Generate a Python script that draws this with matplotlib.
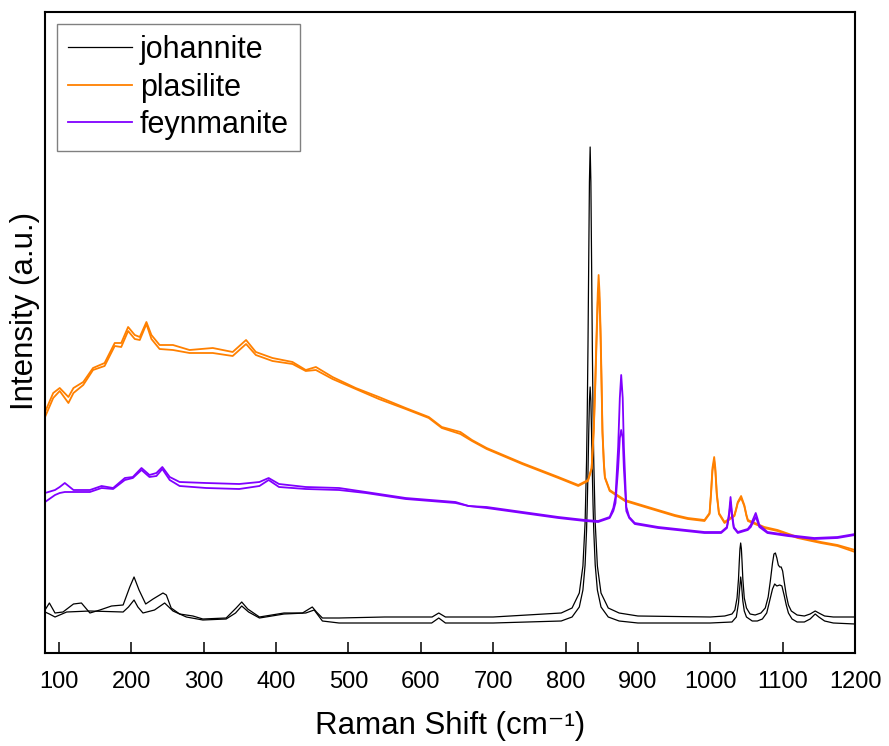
import matplotlib
matplotlib.use("Agg")
import matplotlib.pyplot as plt

# johannite, two spectra (wavenumber in cm-1, intensity in a.u.)
joh_x_a = [80.7, 86.7, 94.5, 105.5, 120, 131, 142.7, 156.5, 172.6, 188.6,
           197.8, 203.7, 210.6, 219.8, 230, 243.7, 248.3, 255, 266.7, 285,
           298.8, 331, 344.8, 352.5, 360.8, 377, 411, 436.5, 450, 455.8,
           464, 487, 550, 615.6, 624.8, 634, 700, 794, 809, 819,
           824, 827, 829, 830, 831, 832, 833, 834, 835, 836,
           837, 838, 839, 841, 844, 849, 859, 874, 900, 1000,
           1020, 1030, 1034, 1037, 1039, 1040, 1041, 1042, 1043, 1044,
           1045, 1047, 1050, 1055, 1062, 1070, 1076, 1080, 1083, 1086,
           1088, 1090, 1092, 1094, 1096, 1098, 1100, 1102, 1105, 1108,
           1112, 1120, 1130, 1138, 1145, 1150, 1158, 1170, 1200]
joh_y_a = [43, 50, 40, 41, 49, 50, 40, 43, 47, 48,
           66, 76, 63, 49, 54, 60, 58, 45, 39, 37,
           34, 35, 45, 51, 44, 36, 40, 40, 46, 41,
           35, 35, 36, 36, 40, 36, 36, 40, 45, 60,
           87, 130, 191, 240, 307, 390, 471, 506, 471, 390,
           307, 240, 191, 130, 87, 60, 45, 40, 37, 36,
           37, 39, 43, 55, 74, 90, 104, 110, 104, 90,
           74, 55, 45, 39, 38, 40, 45, 56, 72, 90,
           99, 100, 95, 88, 86, 86, 82, 72, 58, 48,
           42, 38, 37, 39, 42, 40, 37, 36, 36]

joh_x_b = [80.7, 86.7, 94.5, 110.6, 142.7, 188.6, 196, 203.7, 209, 216,
           232, 246, 257.5, 276, 298.8, 331, 344, 352.5, 362, 377,
           411, 441, 452.6, 464, 487, 615, 624.8, 634, 700, 794,
           809, 819, 824, 827, 829, 830, 831, 832, 833, 834,
           835, 836, 837, 838, 839, 841, 844, 849, 859, 874,
           900, 1000, 1030, 1036, 1039, 1041, 1042, 1043, 1045, 1047,
           1050, 1058, 1065, 1072, 1078, 1082, 1086, 1089, 1092, 1096,
           1099, 1102, 1105, 1108, 1113, 1120, 1130, 1138, 1145, 1150,
           1158, 1170, 1200]
joh_y_b = [41, 39, 36, 41, 42, 41, 46, 53, 46, 40,
           43, 50, 42, 36, 33, 34, 40, 47, 41, 35,
           39, 40, 43, 32, 30, 30, 35, 30, 30, 32,
           36, 46, 63, 88, 122, 148, 181, 219, 252, 266,
           252, 219, 181, 148, 122, 88, 63, 46, 36, 32,
           30, 30, 31, 36, 50, 68, 76, 70, 52, 42,
           36, 32, 32, 34, 40, 52, 64, 69, 67, 68,
           67, 58, 48, 40, 34, 31, 31, 34, 39, 36,
           32, 30, 29]

# plasilite, two spectra on a shared wavenumber grid
plas_x = [80.7, 92, 101, 113, 120, 133.5, 147, 163, 177, 186,
          195.5, 204.7, 211.6, 220.8, 227.7, 239, 257.5, 280.4, 312.5, 340,
          358.5, 372, 395, 422.7, 441, 455, 478, 510, 542, 579,
          611, 629, 654.7, 670.7, 691, 740, 790, 817.6, 831, 836,
          839, 841, 843, 844.5, 845.7, 847, 848.4, 850, 851, 853,
          854.4, 861, 882, 914, 951, 969, 992, 999, 1001, 1003,
          1005.4, 1007, 1009, 1012, 1019.7, 1033.4, 1036, 1038, 1042.6, 1047,
          1050, 1052, 1074.7, 1093, 1120.7, 1152.8, 1175.8, 1200]
plas_y_a = [241, 260, 265, 256, 265, 271, 285, 290, 310, 310,
            326, 318, 316, 331, 318, 308, 308, 303, 305, 301,
            313, 301, 295, 291, 283, 286, 276, 265, 256, 245,
            236, 226, 221, 213, 205, 190, 176, 168, 173, 185,
            225, 270, 323, 360, 378, 360, 323, 265, 223, 190,
            176, 163, 153, 146, 138, 135, 133, 140, 160, 185,
            196, 185, 160, 140, 131, 138, 145, 151, 157, 148,
            138, 133, 126, 123, 116, 111, 108, 103]
plas_y_b = [236, 255, 262, 250, 260, 268, 283, 287, 307, 306,
            322, 314, 313, 329, 314, 304, 303, 300, 300, 297,
            309, 298, 292, 289, 282, 283, 274, 264, 254, 244,
            235, 225, 219, 212, 204, 189, 175, 167, 172, 184,
            222, 265, 315, 350, 365, 350, 315, 258, 220, 188,
            175, 162, 152, 145, 137, 134, 132, 139, 158, 182,
            192, 182, 158, 139, 130, 137, 144, 150, 155, 147,
            137, 132, 125, 122, 115, 110, 107, 101]

# feynmanite, two spectra on a shared wavenumber grid
feyn_x = [80.7, 94.5, 101, 108, 120, 142.7, 158.8, 174.8, 191, 202,
          214, 225, 234.6, 242.8, 253, 266.7, 303.4, 349, 377, 389.7,
          404, 441, 487, 524, 579, 648, 666, 691, 790, 827,
          845, 861, 866, 869, 872.7, 875, 876.9, 879, 880.6, 884,
          888, 895.7, 928, 992, 1015, 1023, 1026, 1028, 1030, 1032.5,
          1038, 1051.8, 1056, 1058.7, 1062.8, 1065, 1067.8, 1079, 1107, 1143.6,
          1175.8, 1200]
feyn_y_a = [160, 163, 166, 170, 163, 163, 167, 165, 175, 176,
            185, 178, 180, 186, 176, 171, 170, 169, 171, 175,
            169, 166, 165, 161, 155, 151, 147, 146, 136, 133,
            132, 136, 145, 156, 206, 255, 278, 255, 206, 146,
            136, 130, 126, 121, 121, 126, 140, 156, 140, 126,
            121, 124, 128, 133, 140, 135, 128, 121, 118, 115,
            116, 119]
feyn_y_b = [151, 158, 160, 161, 161, 161, 165, 164, 173, 175,
            183, 176, 177, 184, 173, 167, 165, 164, 167, 173,
            166, 164, 163, 160, 154, 150, 147, 145, 135, 132,
            131, 135, 142, 150, 185, 215, 223, 215, 185, 142,
            135, 129, 125, 120, 120, 125, 137, 151, 137, 125,
            120, 123, 126, 130, 136, 132, 126, 120, 117, 114,
            115, 118]

x_ticks = [100, 200, 300, 400, 500, 600, 700, 800, 900, 1000, 1100, 1200]

BLACK = "#000000"
ORANGE = "#FF8000"
PURPLE = "#8000FF"

plt.rcParams["font.family"] = ["Liberation Sans", "DejaVu Sans"]

fig = plt.figure(figsize=(8.89, 7.46), dpi=100)
ax = fig.add_axes([45 / 889, 93 / 746, (855 - 45) / 889, (653 - 12) / 746])

ax.plot(joh_x_a, joh_y_a, color=BLACK, lw=0.9, label="johannite")
ax.plot(joh_x_b, joh_y_b, color=BLACK, lw=0.9)
ax.plot(plas_x, plas_y_a, color=ORANGE, lw=1.3, label="plasilite")
ax.plot(plas_x, plas_y_b, color=ORANGE, lw=1.3)
ax.plot(feyn_x, feyn_y_a, color=PURPLE, lw=1.3, label="feynmanite")
ax.plot(feyn_x, feyn_y_b, color=PURPLE, lw=1.3)

ax.set_xlim(80.65, 1200)
ax.set_ylim(0, 641)
ax.set_xticks(x_ticks)
ax.set_yticks([])
ax.tick_params(axis="x", direction="in", length=8, width=1.1,
               labelsize=17, pad=13)
for s in ax.spines.values():
    s.set_linewidth(1.5)

ax.set_xlabel("Raman Shift (cm\u207b\u00b9)", fontsize=22.5, labelpad=13)
ax.set_ylabel("Intensity (a.u.)", fontsize=22.5)
ax.yaxis.set_label_coords(-0.006, 0.534)

leg = ax.legend(loc="upper left", fontsize=22, fancybox=False, framealpha=1,
                edgecolor="#808080", borderaxespad=0.4, borderpad=0.35,
                handlelength=2.1, handletextpad=0.26, labelspacing=0.25)
leg.get_frame().set_linewidth(1.0)

fig.savefig("out.png", dpi=100, facecolor="white")
